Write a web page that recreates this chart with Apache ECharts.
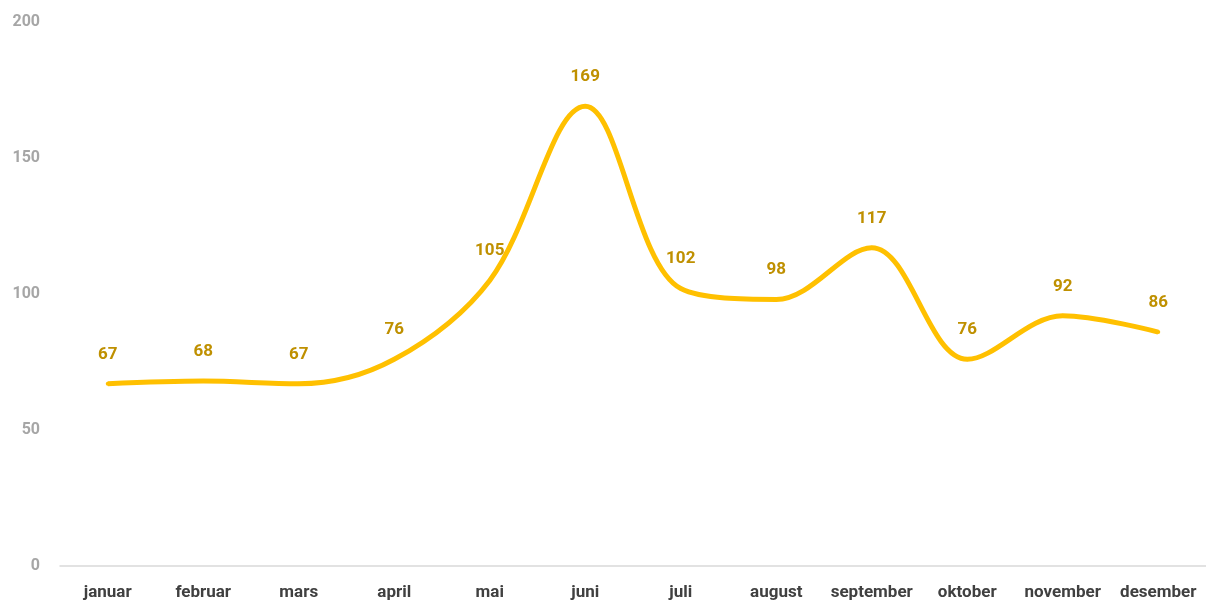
<!DOCTYPE html>
<html>
<head>
<meta charset="utf-8">
<script src="https://cdn.jsdelivr.net/npm/echarts@6/dist/echarts.min.js"></script>
<style>
  html, body { margin: 0; padding: 0; background: #fff; }
  #chart { width: 1206px; height: 601px; }
</style>
</head>
<body>
<div id="chart"></div>
<script>
// måneder
const months = ['januar', 'februar', 'mars', 'april', 'mai', 'juni', 'juli', 'august', 'september', 'oktober', 'november', 'desember']
// verdier
const values = [67, 68, 67, 76, 105, 169, 102, 98, 117, 76, 92, 86]

const chart = echarts.init(document.getElementById('chart'))

const option = {
  animation: false,
  grid: {
    left: 60,
    right: 0,
    top: 22,
    bottom: 35
  },
  xAxis: {
    type: 'category',
    data: months,
    boundaryGap: true,
    axisLine: { lineStyle: { color: '#d9d9d9', width: 1.5 } },
    axisTick: { show: false },
    axisLabel: {
      color: '#404040',
      fontFamily: 'Roboto',
      fontWeight: 'bold',
      fontSize: 17,
      margin: 18,
      interval: 0
    }
  },
  yAxis: {
    type: 'value',
    min: 0,
    max: 200,
    interval: 50,
    axisLine: { show: false },
    axisTick: { show: false },
    splitLine: { show: false },
    axisLabel: {
      color: '#a6a6a6',
      fontFamily: 'Roboto',
      fontWeight: 'bold',
      fontSize: 16,
      margin: 20
    }
  },
  series: [
    {
      type: 'line',
      data: values,
      smooth: 0.35,
      symbol: 'circle',
      symbolSize: 4,
      showSymbol: true,
      itemStyle: { color: '#ffc000' },
      lineStyle: { color: '#ffc000', width: 5 },
      label: {
        show: true,
        position: 'top',
        distance: 19,
        color: '#bf9000',
        fontFamily: 'Roboto',
        fontWeight: 'bold',
        fontSize: 17
      }
    }
  ]
}

chart.setOption(option)
</script>
</body>
</html>
